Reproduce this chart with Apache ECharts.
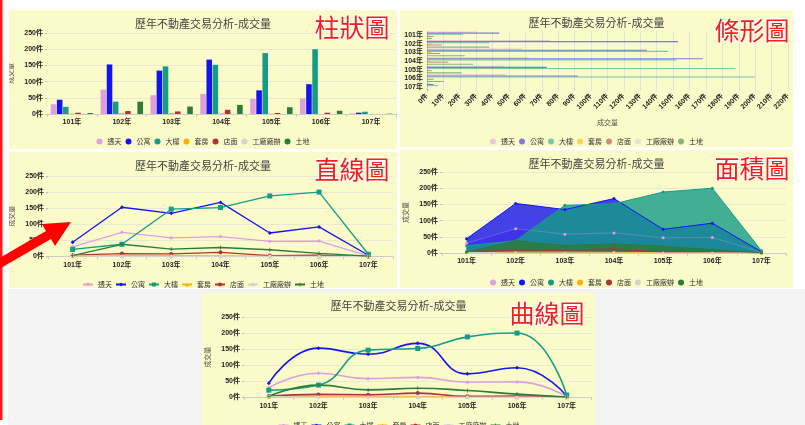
<!DOCTYPE html>
<html><head><meta charset="utf-8">
<script src="https://cdn.jsdelivr.net/npm/echarts@6/dist/echarts.min.js"></script>
<style>
html,body{margin:0;padding:0;background:#fff;width:805px;height:425px;overflow:hidden;position:relative}
.p{position:absolute;background:#fbfbca}
#gray{position:absolute;left:8px;top:289px;width:797px;height:136px;background:#f3f3f3}
#ov{position:absolute;left:0;top:0;width:805px;height:425px;pointer-events:none;z-index:10}
</style></head><body>
<div id="gray"></div>
<div id="c1" class="p" style="left:9px;top:10px;width:388px;height:139px"></div>
<div id="c2" class="p" style="left:400px;top:10px;width:393px;height:137px"></div>
<div id="c3" class="p" style="left:9px;top:152px;width:388px;height:136px"></div>
<div id="c4" class="p" style="left:400px;top:150px;width:393px;height:138px"></div>
<div id="c5" class="p" style="left:202px;top:293px;width:393px;height:132px"></div>
<div id="ov"></div>
<script>
const years = ['101年','102年','103年','104年','105年','106年','107年'];
const names = ['透天','公寓','大樓','套房','店面','工廠廠辦','土地'];
const touTian = [30,75,58,62,47,48,2];
const gongYu = [44,153,134,168,73,92,4];
const daLou = [22,38,147,152,188,200,7];
const taoFang = [1,3,3,2,1,0,0];
const dianMian = [4,9,8,13,3,4,0];
const gongChang = [2,0,0,0,0,0,0];
const tuDi = [3,38,23,28,21,10,1];
const titleText = '歷年不動產交易分析-成交量';
const axisName = '成交量';
const labels = ['柱狀圖','條形圖','直線圖','面積圖','曲線圖'];

const values = [touTian, gongYu, daLou, taoFang, dianMian, gongChang, tuDi];
const colors = ['#dda0dd','#1414ee','#149c86','#ffb000','#b03236','#d3d3d3','#2e7a38'];
const symbols = ['diamond','diamond','rect','triangle','circle','circle','path://M4,0H6V4H10V6H6V10H4V6H0V4H4Z'];
const FONT = 'Liberation Sans, Noto Sans CJK TC, sans-serif';

function title(){ return {text:titleText,left:'center',top:3,textStyle:{fontSize:11,fontWeight:'normal',color:'#444',fontFamily:'Noto Sans CJK TC'}}; }
function legend(top, lineIcon){
  const l = {top:top,left:'center',itemWidth:lineIcon?10:6,itemHeight:lineIcon?5:6,itemGap:lineIcon?3:4,
    textStyle:{fontSize:7,color:'#333',fontFamily:'Noto Sans CJK TC'},data:names};
  if(!lineIcon) l.icon='circle';
  return l;
}
function valAxis(nameGap){
  return {type:'value',min:0,max:250,interval:50,name:axisName,nameLocation:'middle',nameGap:nameGap,
    nameTextStyle:{fontSize:7,color:'#555',fontFamily:'Noto Sans CJK TC'},
    axisLabel:{formatter:'{value}件',fontSize:7,fontWeight:'bold',color:'#222',margin:4,fontFamily:FONT},
    axisLine:{show:false},axisTick:{show:true,length:2,lineStyle:{color:'#bbb'}},
    splitLine:{lineStyle:{color:'#e8e8d4'}}};
}
function catAxis(){
  return {type:'category',data:years,
    axisLabel:{fontSize:7,fontWeight:'bold',color:'#222',margin:5,fontFamily:FONT,interval:0},
    axisLine:{lineStyle:{color:'#ccc'}},axisTick:{show:true,length:3,lineStyle:{color:'#ccc'}}};
}
function grid(l,r,t,b){ return {left:l,right:r,top:t,bottom:b,containLabel:false,outerBoundsMode:'none'}; }

// 1 bar
echarts.init(document.getElementById('c1')).setOption({
  animation:false,color:colors,title:title(),legend:legend(123,false),
  grid:grid(38,1,23,35),xAxis:catAxis(),yAxis:valAxis(24),
  series:names.map((n,i)=>({name:n,type:'bar',data:values[i]}))
});

// 2 horizontal bar
echarts.init(document.getElementById('c2')).setOption({
  animation:false,color:colors,title:Object.assign(title(),{top:2}),legend:legend(123,false),
  grid:grid(27,5,21,56),
  xAxis:{type:'value',min:0,max:220,interval:10,name:axisName,nameLocation:'middle',nameGap:28,
    nameTextStyle:{fontSize:7,color:'#555',fontFamily:'Noto Sans CJK TC'},
    axisLabel:{formatter:'{value}件',rotate:45,fontSize:7,fontWeight:'bold',color:'#222',margin:4,fontFamily:FONT},
    axisLine:{show:false},axisTick:{show:false},splitLine:{lineStyle:{color:'#e4e4d4'}}},
  yAxis:{type:'category',data:years,inverse:true,
    axisLabel:{fontSize:7,fontWeight:'bold',color:'#222',margin:4,fontFamily:FONT,interval:0},
    axisLine:{lineStyle:{color:'#ccc'}},axisTick:{show:false}},
  series:names.map((n,i)=>({name:n,type:'bar',data:values[i],barGap:'0%',barCategoryGap:'10%',itemStyle:{opacity:0.55}}))
});

// 3 straight line
echarts.init(document.getElementById('c3')).setOption({
  animation:false,color:colors,title:title(),legend:legend(124,true),
  grid:grid(39,4,24,31.5),xAxis:catAxis(),yAxis:valAxis(22),
  series:names.map((n,i)=>({name:n,type:'line',data:values[i],symbol:symbols[i],symbolSize:i===2?5:4,
    lineStyle:{width:1.3}}))
});

// 4 area
echarts.init(document.getElementById('c4')).setOption({
  animation:false,color:colors,title:title(),legend:legend(124,false),
  grid:grid(42,7,22,35),xAxis:catAxis(),yAxis:valAxis(30),
  series:names.map((n,i)=>({name:n,type:'line',data:values[i],symbol:'circle',symbolSize:3,
    lineStyle:{width:1,opacity:i===0?0.3:1},areaStyle:{opacity:0.8}}))
});

// 5 smooth line
echarts.init(document.getElementById('c5')).setOption({
  animation:false,color:colors,title:Object.assign(title(),{top:2}),legend:legend(124,true),
  grid:grid(42,3.5,24,27.7),xAxis:catAxis(),yAxis:valAxis(31),
  series:names.map((n,i)=>({name:n,type:'line',smooth:true,data:values[i],symbol:symbols[i],symbolSize:i===2?5:4,
    lineStyle:{width:1.6}}))
});

// overlay decorations
const lblPos = [[352,27],[752,30],[352,169],[752,168],[547,313]];
const g = [
  {type:'rect',shape:{x:0,y:0,width:2.5,height:420},style:{fill:'#ff1a1a'}},
  {type:'polygon',shape:{points:[[71,222],[55,246],[51,239],[-2.5,270],[-7.5,262],[46,231],[42,224]]},style:{fill:'#ff0000'}}
];
labels.forEach((t,i)=>g.push({type:'text',x:lblPos[i][0],y:lblPos[i][1],
  style:{text:t,fill:'#f02020',fontSize:25,fontFamily:'Noto Sans CJK TC',align:'center',verticalAlign:'middle',stroke:'#fff',lineWidth:2}}));
echarts.init(document.getElementById('ov')).setOption({backgroundColor:'transparent',graphic:g});
</script>
</body></html>
